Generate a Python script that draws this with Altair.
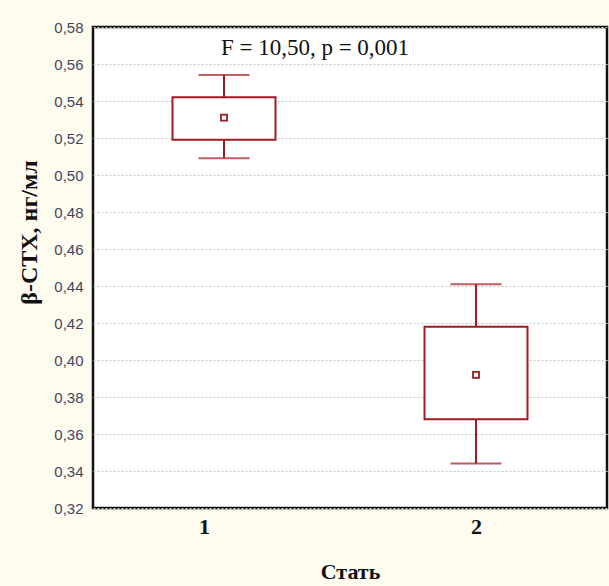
import altair as alt
import pandas as pd

# Data
categories = [1, 2]
means = [0.531, 0.392]
box_low = [0.519, 0.368]
box_high = [0.542, 0.418]
whisker_low = [0.509, 0.344]
whisker_high = [0.554, 0.441]
y_ticks = [0.32, 0.34, 0.36, 0.38, 0.40, 0.42, 0.44, 0.46, 0.48, 0.50, 0.52, 0.54, 0.56, 0.58]
annotation = "F = 10,50, p = 0,001"

df = pd.DataFrame({
    "cat": categories,
    "mean": means,
    "q_lo": box_low,
    "q_hi": box_high,
    "w_lo": whisker_low,
    "w_hi": whisker_high,
})

RED = "#9E1B1F"
SERIF = "Liberation Serif"

x_scale = alt.Scale(domain=[0.5, 2.5], nice=False, zero=False)
x_axis = alt.Axis(
    values=categories,
    format="d",
    title="Стать",
    grid=False,
    ticks=False,
    domain=False,
    labelFont=SERIF,
    labelFontWeight="bold",
    labelFontSize=22,
    labelColor="#111111",
    labelPadding=8,
    labelOffset={"condition": {"test": "datum.value == 1", "value": -20}, "value": 0},
    titleFont=SERIF,
    titleFontWeight="bold",
    titleFontSize=22,
    titleColor="#111111",
    titlePadding=24,
)

y_scale = alt.Scale(domain=[0.32, 0.58], nice=False, zero=False)
y_axis = alt.Axis(
    values=y_ticks,
    labelExpr="replace(format(datum.value, '.2f'), '.', ',')",
    labelOverlap=False,
    title="β-СТХ, нг/мл",
    grid=True,
    gridColor="#c4c4c4",
    gridDash=[2, 2],
    gridWidth=1,
    ticks=False,
    domain=False,
    labelFont="Liberation Sans",
    labelFontSize=15,
    labelColor="#44465a",
    labelPadding=10,
    titleFont=SERIF,
    titleFontWeight="bold",
    titleFontSize=24,
    titleColor="#111111",
    titlePadding=12,
    titleY=205,
)


def X():
    return alt.X("cat:Q", scale=x_scale, axis=x_axis)


def Y(field):
    return alt.Y(field, scale=y_scale, axis=y_axis)


base = alt.Chart(df)

whisker = base.mark_rule(color=RED, strokeWidth=2).encode(
    x=X(), y=Y("w_lo:Q"), y2="w_hi:Q",
)

box = base.mark_bar(size=103, fill="white", stroke=RED, strokeWidth=2).encode(
    x=X(), y=Y("q_lo:Q"), y2="q_hi:Q",
)

cap_lo = base.mark_tick(color=RED, orient="horizontal", size=51, thickness=2).encode(
    x=X(), y=Y("w_lo:Q")
)
cap_hi = base.mark_tick(color=RED, orient="horizontal", size=51, thickness=2).encode(
    x=X(), y=Y("w_hi:Q")
)

mean_pt = base.mark_point(shape="square", size=36, filled=False, color=RED, strokeWidth=1.8, opacity=1).encode(
    x=X(), y=Y("mean:Q")
)

text = alt.Chart(pd.DataFrame({"t": [annotation]})).mark_text(
    font=SERIF, fontSize=23, color="#111111", baseline="middle", align="center"
).encode(
    text="t:N",
    x=alt.value(222),
    y=alt.value(21),
)

chart = alt.layer(whisker, box, cap_lo, cap_hi, mean_pt, text).properties(
    width=514,
    height=481,
    background="#FEFBEF",
    padding={"left": 93, "top": 27, "right": 2, "bottom": 78},
    autosize=alt.AutoSizeParams(type="none"),
).configure_view(
    fill="white",
    stroke="#111111",
    strokeWidth=2.5,
)

chart.save("out.html", embed_options={"renderer": "svg", "actions": False})
